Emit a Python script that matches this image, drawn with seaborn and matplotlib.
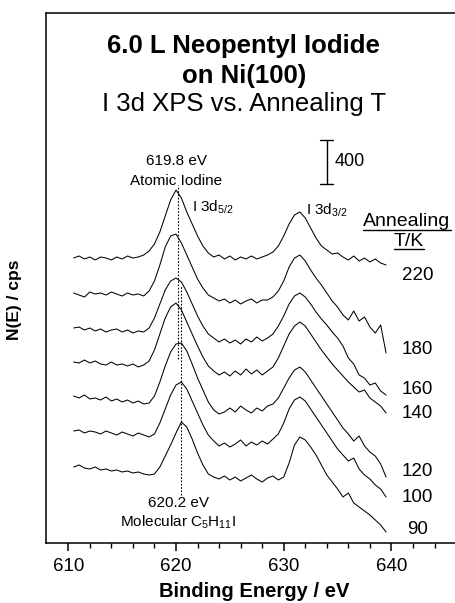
import numpy as np
import pandas as pd
import seaborn as sns
import matplotlib.pyplot as plt
from matplotlib.lines import Line2D

# binding energy grid of the spectra (eV)
energy = np.arange(610.5, 639.75, 0.5)

# annealing temperatures, top curve first
temps = ["220", "180", "160", "140", "120", "100", "90"]

# stacking offset of each spectrum (cps)
offsets = [2565, 2250, 1935, 1629, 1323, 1008, 684]

# I 3d intensity, relative to each curve's left baseline (cps)
i220 = [0, 18, -9, 9, -18, 9, 0, -18, 9, -9,
        18, 0, 9, 27, 63, 126, 234, 378, 522, 612,
        540, 414, 306, 198, 108, 45, 9, 27, -9, 18,
        -18, 9, -9, 18, -9, 9, 27, 54, 108, 198,
        306, 387, 414, 360, 270, 180, 108, 72, 36, 45,
        9, -18, 18, -27, 0, -36, -9, -45, -63]
i180 = [0, -18, -36, 9, -9, 0, -18, 9, -9, -27,
        0, -18, -9, -27, 18, 108, 252, 414, 513, 531,
        450, 342, 234, 126, 45, -18, -45, -72, -54, -90,
        -63, -99, -72, -54, -90, -63, -63, -36, 18, 108,
        234, 315, 342, 288, 207, 135, 72, 0, -72, -126,
        -198, -243, -162, -252, -216, -306, -360, -288, -540]
i160 = [0, 9, -18, 0, -27, -9, -36, -18, -9, -36,
        -18, -45, -27, -36, 0, 90, 216, 342, 423, 450,
        414, 324, 216, 108, 18, -54, -90, -126, -99, -135,
        -108, -144, -99, -126, -81, -117, -90, -54, 18, 108,
        216, 288, 315, 279, 216, 144, 81, 27, -36, -90,
        -162, -270, -324, -423, -450, -513, -495, -567, -603]
i140 = [0, -9, 18, -9, 9, -18, -27, 0, -27, -18,
        -36, -18, -45, -27, 9, 108, 252, 396, 495, 531,
        468, 360, 252, 144, 45, -36, -81, -117, -90, -126,
        -81, -117, -63, -108, -72, -117, -81, -45, 36, 144,
        252, 324, 360, 324, 252, 180, 108, 45, -18, -72,
        -126, -180, -225, -270, -252, -324, -360, -396, -459]
i120 = [0, -18, 9, -27, -18, -36, -9, -45, -27, -54,
        -36, -63, -45, -72, -63, 0, 126, 270, 396, 468,
        477, 405, 288, 162, 54, -54, -126, -162, -144, -108,
        -144, -90, -126, -153, -108, -135, -90, -72, -18, 72,
        162, 234, 261, 216, 144, 72, 0, -72, -144, -216,
        -288, -342, -405, -360, -450, -504, -540, -612, -729]
i100 = [0, 9, -18, 0, -9, -27, 0, -18, -36, -9,
        -27, -45, -18, -36, -54, -27, 72, 198, 324, 414,
        441, 378, 270, 162, 54, -36, -90, -135, -108, -144,
        -117, -81, -135, -99, -126, -90, -117, -72, -27, 72,
        198, 279, 306, 270, 198, 126, 54, -18, -90, -162,
        -216, -270, -243, -342, -396, -432, -486, -522, -594]
i90 = [0, 18, -9, -18, 0, -27, -18, -36, -27, -45,
       -36, -54, -45, -63, -72, -63, 0, 99, 198, 306,
       405, 360, 252, 126, 18, -63, -90, -108, -81, -117,
       -90, -126, -99, -72, -108, -135, -99, -81, -117, -90,
       36, 198, 270, 243, 180, 108, 18, -72, -135, -198,
       -270, -234, -324, -360, -396, -432, -477, -522, -585]

spectra = [i220, i180, i160, i140, i120, i100, i90]

frames = []
for t, off, sig in zip(temps, offsets, spectra):
    frames.append(pd.DataFrame({"energy": energy,
                                "signal": np.array(sig) + off,
                                "T": t}))
df = pd.concat(frames, ignore_index=True)

sns.set_style("ticks")
plt.rcParams["font.family"] = ["Liberation Sans", "DejaVu Sans"]
plt.rcParams["text.color"] = "black"
plt.rcParams["axes.labelcolor"] = "black"
plt.rcParams["xtick.color"] = "black"
plt.rcParams["mathtext.fontset"] = "custom"
plt.rcParams["mathtext.rm"] = "Liberation Sans"
plt.rcParams["mathtext.it"] = "Liberation Sans:italic"
plt.rcParams["mathtext.bf"] = "Liberation Sans:bold"

W, H = 455, 603
fig = plt.figure(figsize=(W / 100, H / 100), dpi=100)
ax = fig.add_axes([46 / W, 60 / H, 431.6 / W, 530 / H])

sns.lineplot(data=df, x="energy", y="signal", units="T", estimator=None,
             color="black", lw=0.75, ax=ax)

ax.set_xlim(607.93, 648)
ax.set_ylim(0, 4770)
ax.set_xlabel("")
ax.set_ylabel("")
ax.set_yticks([])
ax.set_xticks([610, 620, 630, 640])
ax.set_xticks(np.arange(612, 648, 2), minor=True)
ax.tick_params(axis="x", which="major", direction="out", length=6, width=1.1,
               labelsize=13.5, pad=5, colors="black")
ax.tick_params(axis="x", which="minor", direction="out", length=3.5, width=1.0,
               colors="black")
for s in ["left", "bottom", "top"]:
    ax.spines[s].set_linewidth(1.1)
    ax.spines[s].set_color("black")
ax.spines["right"].set_visible(False)

# title block
ax.text(626.3, 4470, "6.0 L Neopentyl Iodide", ha="center", va="center",
        fontsize=18.5, fontweight="bold")
ax.text(626.3, 4205, "on Ni(100)", ha="center", va="center",
        fontsize=18.5, fontweight="bold")
ax.text(626.3, 3955, "I 3d XPS vs. Annealing T", ha="center", va="center",
        fontsize=18.5)

# 400 cps scale bar
ax.plot([634.0, 634.0], [3230, 3630], color="black", lw=1.0)
ax.plot([633.4, 634.6], [3630, 3630], color="black", lw=1.0)
ax.plot([633.4, 634.6], [3230, 3230], color="black", lw=1.0)
ax.text(634.75, 3430, "400", ha="left", va="center", fontsize=13)

# peak markers
ax.text(620.0, 3440, "619.8 eV", ha="center", va="center", fontsize=11)
ax.text(620.0, 3262, "Atomic Iodine", ha="center", va="center", fontsize=11)
ax.plot([620.15, 620.15], [1660, 3225], color="black", lw=0.8, ls=(0, (1.5, 1.5)))
ax.plot([620.45, 620.45], [432, 2320], color="black", lw=0.8, ls=(0, (1.5, 1.5)))
ax.text(620.2, 360, "620.2 eV", ha="center", va="center", fontsize=11)
ax.text(620.2, 190, r"Molecular C$_{\mathrm{5}}$H$_{\mathrm{11}}$I",
        ha="center", va="center", fontsize=11)

ax.text(621.5, 3024, r"I 3d$_{\mathrm{5/2}}$", ha="left", va="center", fontsize=11)
ax.text(632.1, 2997, r"I 3d$_{\mathrm{3/2}}$", ha="left", va="center", fontsize=11)

# temperature legend
t1 = ax.text(641.45, 2889, "Annealing", ha="center", va="center", fontsize=14)
t2 = ax.text(641.6, 2709, "T/K", ha="center", va="center", fontsize=14)
label_y = [2412, 1737, 1377, 1170, 639, 405, 117]
for t, y in zip(temps, label_y):
    ax.text(642.4, y, t, ha="center", va="center", fontsize=13.5)

fig.text(15 / W, 1 - 300 / H, "N(E) / cps", rotation=90, ha="center",
         va="center", fontsize=12.5, fontweight="bold")
fig.text(254 / W, 6 / H, "Binding Energy / eV", ha="center", va="baseline",
         fontsize=14.5, fontweight="bold")

# underline the legend heading
fig.canvas.draw()
rend = fig.canvas.get_renderer()
for t in (t1, t2):
    bb = t.get_window_extent(rend)
    fig.add_artist(Line2D([bb.x0 / W, bb.x1 / W], [(bb.y0 + 1) / H, (bb.y0 + 1) / H],
                          transform=fig.transFigure, color="black", lw=1.0))

fig.savefig("out.png", dpi=100)
